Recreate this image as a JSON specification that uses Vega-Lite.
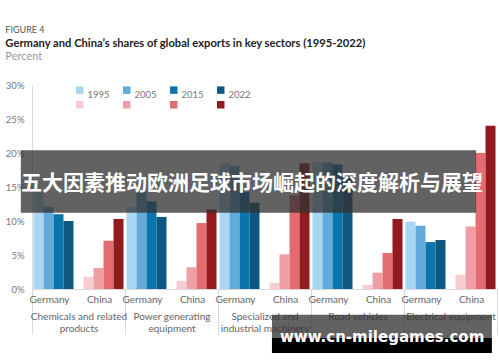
{
  "$schema": "https://vega.github.io/schema/vega-lite/v6.json",
  "padding": {"top": 25, "left": 5, "right": 0, "bottom": 0},
  "background": "white",
  "title": {"text": "FIGURE 4", "anchor": "start", "frame": "bounds", "fontSize": 9, "fontWeight": "normal", "color": "#555555", "font": "Lato", "offset": 3},
  "datasets": {
    "shares": [
      {"sector": "Chemicals and related products", "country": "Germany", "year": "1995", "series": "Germany 1995", "value": 14.2},
      {"sector": "Chemicals and related products", "country": "Germany", "year": "2005", "series": "Germany 2005", "value": 12.1},
      {"sector": "Chemicals and related products", "country": "Germany", "year": "2015", "series": "Germany 2015", "value": 11.0},
      {"sector": "Chemicals and related products", "country": "Germany", "year": "2022", "series": "Germany 2022", "value": 10.0},
      {"sector": "Chemicals and related products", "country": "China", "year": "1995", "series": "China 1995", "value": 1.8},
      {"sector": "Chemicals and related products", "country": "China", "year": "2005", "series": "China 2005", "value": 3.1},
      {"sector": "Chemicals and related products", "country": "China", "year": "2015", "series": "China 2015", "value": 7.1},
      {"sector": "Chemicals and related products", "country": "China", "year": "2022", "series": "China 2022", "value": 10.3},
      {"sector": "Power generating equipment", "country": "Germany", "year": "1995", "series": "Germany 1995", "value": 12.1},
      {"sector": "Power generating equipment", "country": "Germany", "year": "2005", "series": "Germany 2005", "value": 14.6},
      {"sector": "Power generating equipment", "country": "Germany", "year": "2015", "series": "Germany 2015", "value": 12.9},
      {"sector": "Power generating equipment", "country": "Germany", "year": "2022", "series": "Germany 2022", "value": 10.6},
      {"sector": "Power generating equipment", "country": "China", "year": "1995", "series": "China 1995", "value": 1.2},
      {"sector": "Power generating equipment", "country": "China", "year": "2005", "series": "China 2005", "value": 3.2},
      {"sector": "Power generating equipment", "country": "China", "year": "2015", "series": "China 2015", "value": 9.7},
      {"sector": "Power generating equipment", "country": "China", "year": "2022", "series": "China 2022", "value": 11.7},
      {"sector": "Specialized and industrial machinery", "country": "Germany", "year": "1995", "series": "Germany 1995", "value": 18.5},
      {"sector": "Specialized and industrial machinery", "country": "Germany", "year": "2005", "series": "Germany 2005", "value": 18.1},
      {"sector": "Specialized and industrial machinery", "country": "Germany", "year": "2015", "series": "Germany 2015", "value": 14.3},
      {"sector": "Specialized and industrial machinery", "country": "Germany", "year": "2022", "series": "Germany 2022", "value": 12.7},
      {"sector": "Specialized and industrial machinery", "country": "China", "year": "1995", "series": "China 1995", "value": 0.9},
      {"sector": "Specialized and industrial machinery", "country": "China", "year": "2005", "series": "China 2005", "value": 5.1},
      {"sector": "Specialized and industrial machinery", "country": "China", "year": "2015", "series": "China 2015", "value": 13.8},
      {"sector": "Specialized and industrial machinery", "country": "China", "year": "2022", "series": "China 2022", "value": 18.5},
      {"sector": "Road vehicles", "country": "Germany", "year": "1995", "series": "Germany 1995", "value": 18.7},
      {"sector": "Road vehicles", "country": "Germany", "year": "2005", "series": "Germany 2005", "value": 18.6},
      {"sector": "Road vehicles", "country": "Germany", "year": "2015", "series": "Germany 2015", "value": 18.3},
      {"sector": "Road vehicles", "country": "Germany", "year": "2022", "series": "Germany 2022", "value": 16.4},
      {"sector": "Road vehicles", "country": "China", "year": "1995", "series": "China 1995", "value": 0.6},
      {"sector": "Road vehicles", "country": "China", "year": "2005", "series": "China 2005", "value": 2.4},
      {"sector": "Road vehicles", "country": "China", "year": "2015", "series": "China 2015", "value": 5.3},
      {"sector": "Road vehicles", "country": "China", "year": "2022", "series": "China 2022", "value": 10.3},
      {"sector": "Electrical equipment", "country": "Germany", "year": "1995", "series": "Germany 1995", "value": 9.9},
      {"sector": "Electrical equipment", "country": "Germany", "year": "2005", "series": "Germany 2005", "value": 9.3},
      {"sector": "Electrical equipment", "country": "Germany", "year": "2015", "series": "Germany 2015", "value": 6.9},
      {"sector": "Electrical equipment", "country": "Germany", "year": "2022", "series": "Germany 2022", "value": 7.2},
      {"sector": "Electrical equipment", "country": "China", "year": "1995", "series": "China 1995", "value": 2.1},
      {"sector": "Electrical equipment", "country": "China", "year": "2005", "series": "China 2005", "value": 9.2},
      {"sector": "Electrical equipment", "country": "China", "year": "2015", "series": "China 2015", "value": 20.0},
      {"sector": "Electrical equipment", "country": "China", "year": "2022", "series": "China 2022", "value": 24.0}
    ],
    "countries": [
      {"sector": "Chemicals and related products", "country": "Germany", "slot": "Germany 2015"},
      {"sector": "Chemicals and related products", "country": "China", "slot": "China 2015"},
      {"sector": "Power generating equipment", "country": "Germany", "slot": "Germany 2015"},
      {"sector": "Power generating equipment", "country": "China", "slot": "China 2015"},
      {"sector": "Specialized and industrial machinery", "country": "Germany", "slot": "Germany 2015"},
      {"sector": "Specialized and industrial machinery", "country": "China", "slot": "China 2015"},
      {"sector": "Road vehicles", "country": "Germany", "slot": "Germany 2015"},
      {"sector": "Road vehicles", "country": "China", "slot": "China 2015"},
      {"sector": "Electrical equipment", "country": "Germany", "slot": "Germany 2015"},
      {"sector": "Electrical equipment", "country": "China", "slot": "China 2015"}
    ],
    "banner": [
      {"x0": -0.024, "x1": 0.955, "y0": 11.2, "y1": 20.4, "xc": 0.473, "yc": 15.4, "label": "五大因素推动欧洲足球市场崛起的深度解析与展望"}
    ],
    "watermark": [
      {"x0": 0.516, "x1": 0.989, "y0": -3.8, "y1": -7.2, "y2": -9.4, "xc": 0.753, "yc": -7.06, "label": "www.cn-milegames.com"}
    ]
  },
  "vconcat": [
    {
      "width": 465,
      "height": 204,
      "title": {"text": "Germany and China’s shares of global exports in key sectors (1995-2022)", "subtitle": "Percent", "anchor": "start", "frame": "bounds", "font": "Lato", "fontSize": 11.2, "fontWeight": "bold", "color": "#222222", "subtitleFont": "Lato", "subtitleFontSize": 11, "subtitleColor": "#999999", "subtitlePadding": 2, "offset": 18},
      "resolve": {"scale": {"x": "independent"}},
      "layer": [
        {
          "layer": [
            {
              "data": {"name": "shares"},
              "mark": {"type": "bar"},
              "encoding": {
                "x": {"field": "sector", "type": "nominal", "scale": {"domain": ["Chemicals and related products", "Power generating equipment", "Specialized and industrial machinery", "Road vehicles", "Electrical equipment"], "paddingInner": 0, "paddingOuter": 0},
                  "axis": {"title": null, "labelAngle": 0, "labelExpr": "datum.value == 'Chemicals and related products' ? ['Chemicals and related', 'products'] : datum.value == 'Power generating equipment' ? ['Power generating', 'equipment'] : datum.value == 'Specialized and industrial machinery' ? ['Specialized and', 'industrial machinery'] : datum.value", "tickBand": "extent", "tickSize": 45, "tickColor": "#d9d9d9", "domainColor": "#d9d9d9", "labelPadding": -23, "labelBaseline": "top", "labelLineHeight": 12, "labelFontSize": 10, "labelColor": "#666666", "labelFont": "Lato", "labelOverlap": false, "labelBound": false, "labelLimit": 0}},
                "xOffset": {"field": "series", "type": "nominal", "scale": {"domain": ["Germany 1995", "Germany 2005", "Germany 2015", "Germany 2022", "gap", "China 1995", "China 2005", "China 2015", "China 2022"], "paddingInner": 0, "paddingOuter": 0.15}},
                "y": {"field": "value", "type": "quantitative", "scale": {"domain": [0, 30], "nice": false},
                  "axis": {"title": null, "values": [0, 5, 10, 15, 20, 25, 30], "tickCount": 7, "labelExpr": "datum.value + '%'", "labelOverlap": false, "ticks": false, "grid": false, "domainColor": "#d9d9d9", "labelPadding": 8, "labelFontSize": 9.5, "labelColor": "#777777", "labelFont": "Lato"}},
                "color": {"field": "series", "type": "nominal",
                  "scale": {"domain": ["Germany 1995", "Germany 2005", "Germany 2015", "Germany 2022", "China 1995", "China 2005", "China 2015", "China 2022"],
                    "range": ["#a9d6f0", "#62aad9", "#0a75ad", "#0d5880", "#f8cdd1", "#ee9fa5", "#e46c70", "#921b1f"]},
                  "legend": {"title": null, "orient": "none", "legendX": 43, "legendY": 0, "direction": "horizontal", "columns": 4, "symbolType": "square", "symbolSize": 56, "symbolStrokeWidth": 0, "labelFontSize": 9.5, "labelColor": "#777777", "labelFont": "Lato", "labelBaseline": "top", "labelOffset": 3, "columnPadding": 12, "rowPadding": -5, "gridAlign": "each",
                    "labelExpr": "indexof(datum.value, 'Germany') == 0 ? slice(datum.value, 8) : ''"}}
              }
            },
            {
              "data": {"name": "countries"},
              "mark": {"type": "text", "baseline": "middle", "align": "center", "fontSize": 10, "color": "#666666", "font": "Lato", "dx": -9},
              "encoding": {
                "x": {"field": "sector", "type": "nominal"},
                "xOffset": {"field": "slot", "type": "nominal"},
                "y": {"datum": -1.6, "type": "quantitative"},
                "text": {"field": "country"}
              }
            }
          ]
        },
        {
          "data": {"name": "banner"},
          "mark": {"type": "rect", "fill": "#333333", "opacity": 0.77},
          "encoding": {
            "x": {"field": "x0", "type": "quantitative", "scale": {"domain": [0, 1], "nice": false, "zero": false}, "axis": null},
            "x2": {"field": "x1"},
            "y": {"field": "y0", "type": "quantitative"},
            "y2": {"field": "y1"}
          }
        },
        {
          "data": {"name": "banner"},
          "mark": {"type": "text", "fill": "white", "fontSize": 21, "fontWeight": "bold", "font": "Noto Sans CJK SC", "align": "center", "baseline": "middle"},
          "encoding": {
            "x": {"field": "xc", "type": "quantitative", "scale": {"domain": [0, 1], "nice": false, "zero": false}, "axis": null},
            "y": {"field": "yc", "type": "quantitative"},
            "text": {"field": "label"}
          }
        },
        {
          "data": {"name": "watermark"},
          "mark": {"type": "rect", "fill": "#333333", "opacity": 0.77},
          "encoding": {
            "x": {"field": "x0", "type": "quantitative", "scale": {"domain": [0, 1], "nice": false, "zero": false}, "axis": null},
            "x2": {"field": "x1"},
            "y": {"field": "y0", "type": "quantitative"},
            "y2": {"field": "y1"}
          }
        },
        {
          "data": {"name": "watermark"},
          "mark": {"type": "rect", "fill": "#000000"},
          "encoding": {
            "x": {"field": "x0", "type": "quantitative", "scale": {"domain": [0, 1], "nice": false, "zero": false}, "axis": null},
            "x2": {"field": "x1"},
            "y": {"field": "y1", "type": "quantitative"},
            "y2": {"field": "y2"}
          }
        },
        {
          "data": {"name": "watermark"},
          "mark": {"type": "text", "fill": "white", "fontSize": 15, "fontWeight": "bold", "font": "DejaVu Sans", "align": "center", "baseline": "middle"},
          "encoding": {
            "x": {"field": "xc", "type": "quantitative", "scale": {"domain": [0, 1], "nice": false, "zero": false}, "axis": null},
            "y": {"field": "yc", "type": "quantitative"},
            "text": {"field": "label"}
          }
        }
      ]
    }
  ],
  "config": {"view": {"stroke": null}, "font": "Lato", "axisY": {"labelOverlap": false, "tickCount": 7}}
}
